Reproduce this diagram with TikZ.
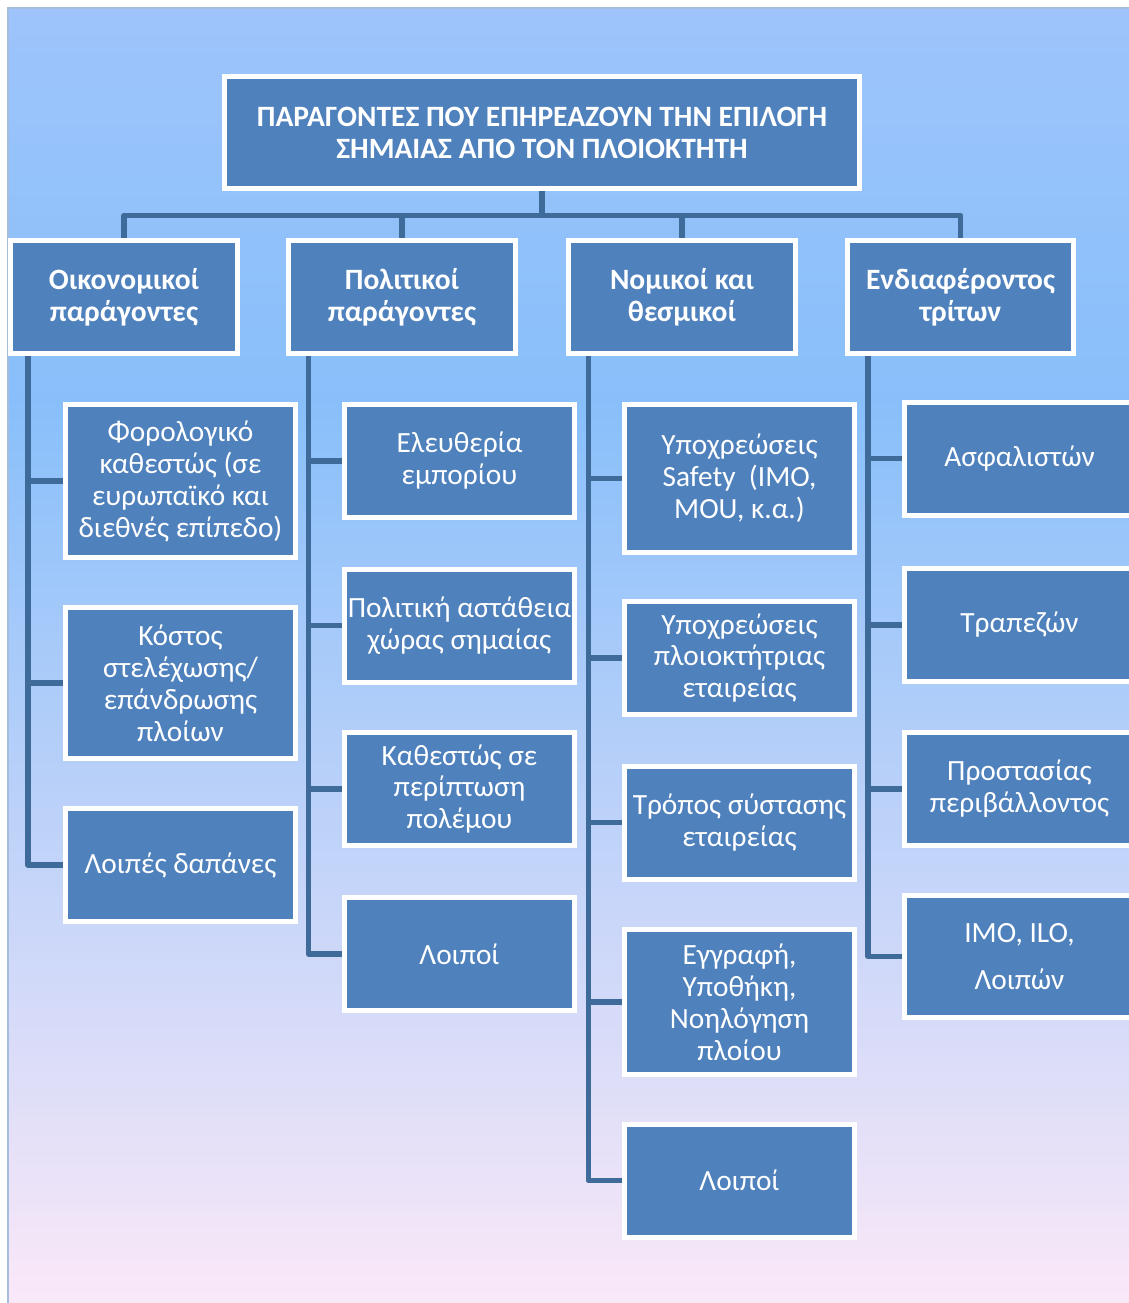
\documentclass[tikz,border=0pt]{standalone}
\usepackage{fontspec}
\setmainfont{Carlito}
\usetikzlibrary{calc}
\definecolor{boxblue}{RGB}{79,129,189}
\definecolor{linkblue}{RGB}{62,107,154}
\definecolor{bgtop}{RGB}{158,196,251}
\definecolor{bgmid}{RGB}{136,191,250}
\definecolor{bgbottom}{RGB}{250,232,248}
\definecolor{framegray}{RGB}{165,188,222}
\pgfdeclarelayer{back}
\pgfdeclarelayer{links}
\pgfsetlayers{back,links,main}
\tikzset{
  box/.style={fill=boxblue, draw=white, line width=0.1cm, text=white, align=center,
    minimum width=4.6cm, minimum height=2.26cm, inner sep=0pt,
    font=\fontsize{16.7}{18.2}\selectfont},
  head/.style={box, minimum width=4.54cm, font=\fontsize{16.8}{18.2}\selectfont\bfseries},
  link/.style={draw=linkblue, line width=0.11cm, line join=round},
}

\begin{document}
\begin{tikzpicture}[x=0.02cm, y=-0.02cm]
			%%%%% START %%%%%
			\useasboundingbox (0,0) rectangle (1129,1303);
			
			\begin{pgfonlayer}{back}
			\fill[white] (0,0) rectangle (1129,1303);
			\shade[top color=bgtop, bottom color=bgmid] (8,8) rectangle (1129,401);
			\shade[top color=bgmid, bottom color=bgbottom] (8,400) rectangle (1129,1303);
			\draw[framegray, line width=0.8pt] (8,1303) -- (8,8) -- (1129,8);
			\end{pgfonlayer}
			
			% title
			\node[head, minimum width=12.7cm, minimum height=2.24cm] (title) at (542,132.5)
				{ΠΑΡΑΓΟΝΤΕΣ ΠΟΥ ΕΠΗΡΕΑΖΟΥΝ ΤΗΝ ΕΠΙΛΟΓΗ\\ΣΗΜΑΙΑΣ ΑΠΟ ΤΟΝ ΠΛΟΙΟΚΤΗΤΗ};
			
			% groups
			\node[head] (econ) at (124,297) {Οικονομικοί\\παράγοντες};
			\node[head] (polit) at (402,297) {Πολιτικοί\\παράγοντες};
			\node[head] (legal) at (682,297) {Νομικοί και\\θεσμικοί};
			\node[head] (third) at (960.5,297) {Ενδιαφέροντος\\τρίτων};
			
			% economic
			\node[box, minimum height=3.06cm] (econ1) at (180.5,481) {Φορολογικό\\καθεστώς (σε\\ευρωπαϊκό και\\διεθνές επίπεδο)};
			\node[box, minimum height=3.02cm] (econ2) at (180.5,683) {Κόστος\\στελέχωσης/\\επάνδρωσης\\πλοίων};
			\node[box] (econ3) at (180.5,865) {Λοιπές δαπάνες};
			
			% political
			\node[box] (polit1) at (459.5,461) {Ελευθερία\\εμπορίου};
			\node[box] (polit2) at (459.5,625.5) {Πολιτική αστάθεια\\χώρας σημαίας};
			\node[box] (polit3) at (459.5,789) {Καθεστώς σε\\περίπτωση\\πολέμου};
			\node[box] (polit4) at (459.5,954) {Λοιποί};
			
			% legal
			\node[box, minimum height=2.96cm] (legal1) at (739.5,478.5) {Υποχρεώσεις\\Safety~ (IMO,\\MOU, κ.α.)};
			\node[box] (legal2) at (739.5,658) {Υποχρεώσεις\\πλοιοκτήτριας\\εταιρείας};
			\node[box] (legal3) at (739.5,822.5) {Τρόπος σύστασης\\εταιρείας};
			\node[box, minimum height=2.9cm] (legal4) at (739.5,1002) {Εγγραφή,\\Υποθήκη,\\Νοηλόγηση\\πλοίου};
			\node[box] (legal5) at (739.5,1180.5) {Λοιποί};
			
			% third parties
			\node[box] (third1) at (1019.5,458.5) {Ασφαλιστών};
			\node[box] (third2) at (1019.5,625) {Τραπεζών};
			\node[box] (third3) at (1019.5,789) {Προστασίας\\περιβάλλοντος};
			\node[box, minimum height=2.44cm] (third4) at (1019.5,956.5) {IMO, ILO,\\[9pt]Λοιπών};
			
			\begin{pgfonlayer}{links}
			\foreach \g in {econ,polit,legal,third}
				\draw[link] (title.south) -- ++(0,24.5) -| (\g.north);
			\foreach \k in {econ1,econ2,econ3}
				\draw[link] ([xshift=0.4cm]econ.south west) |- (\k.west);
			\foreach \k in {polit1,polit2,polit3,polit4}
				\draw[link] ([xshift=0.45cm]polit.south west) |- (\k.west);
			\foreach \k in {legal1,legal2,legal3,legal4,legal5}
				\draw[link] ([xshift=0.45cm]legal.south west) |- (\k.west);
			\foreach \k in {third1,third2,third3,third4}
				\draw[link] ([xshift=0.47cm]third.south west) |- (\k.west);
			\end{pgfonlayer}
			
			%%%%% END %%%%%
\end{tikzpicture}
\end{document}
